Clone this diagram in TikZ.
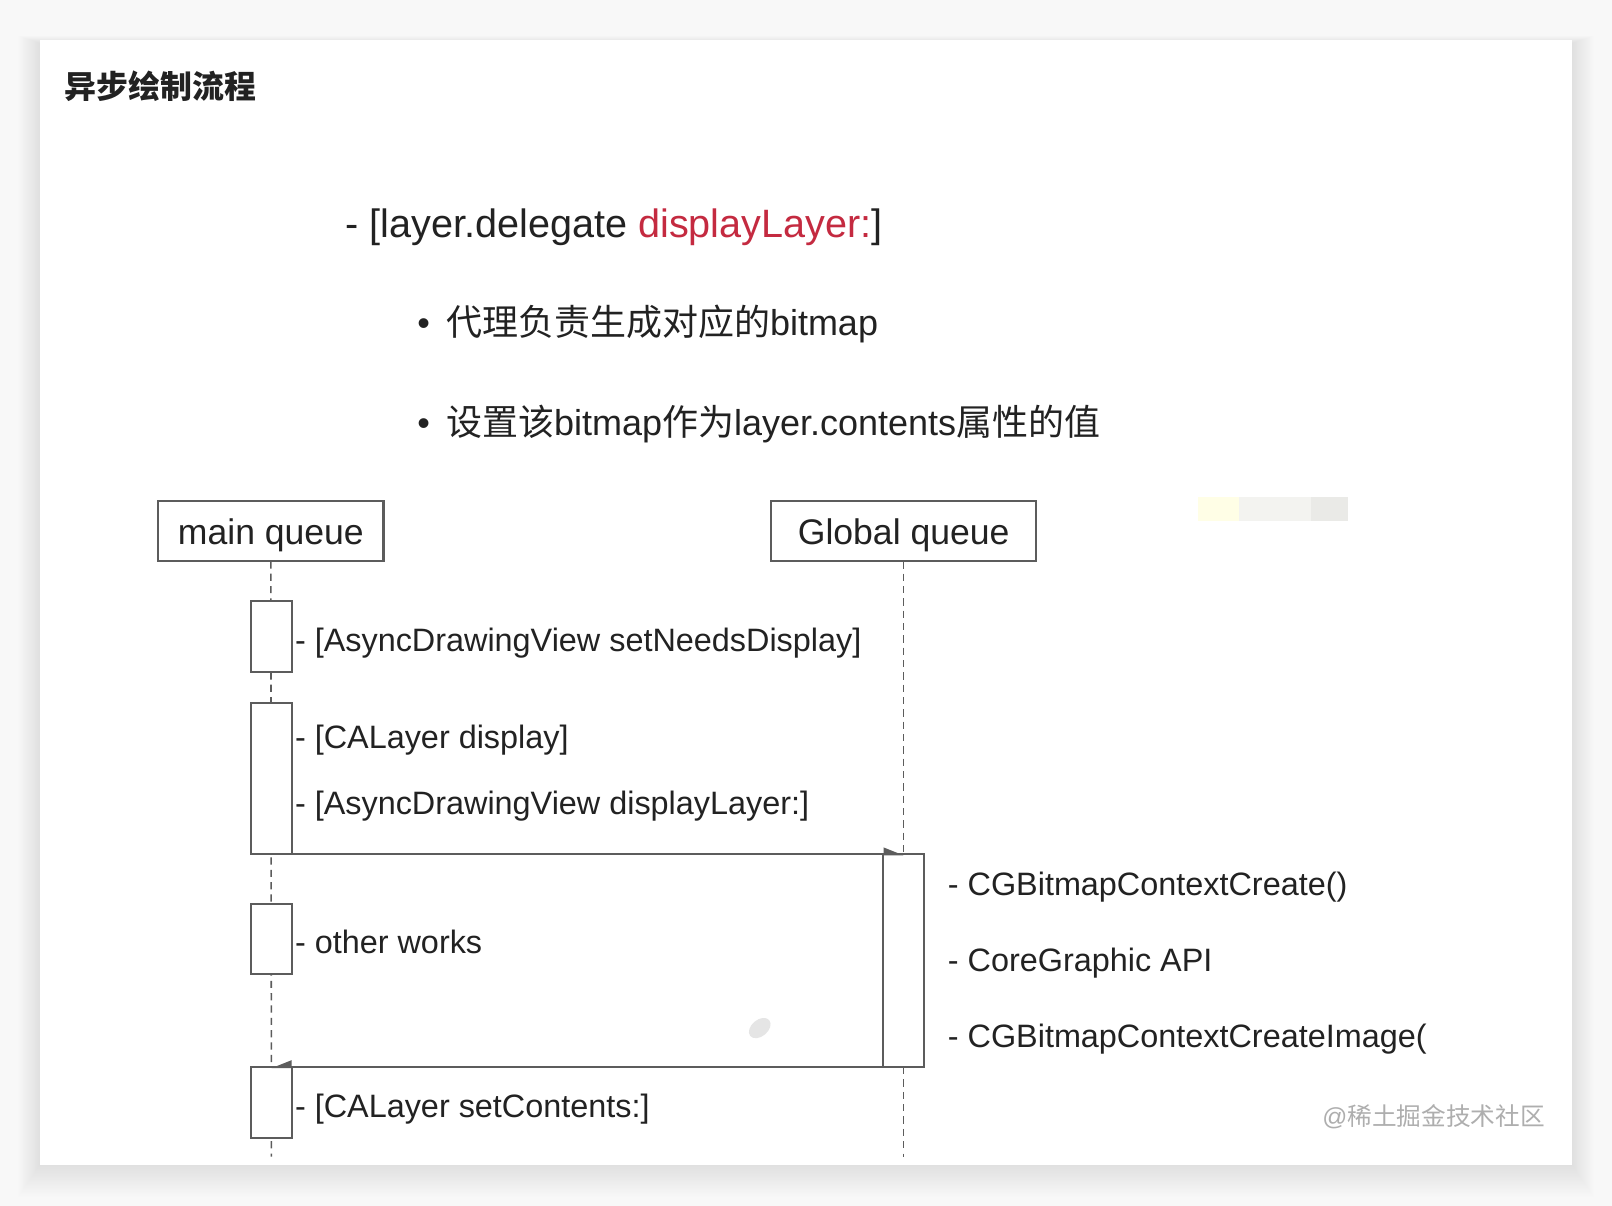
\documentclass[tikz,border=0pt]{standalone}
\usepackage{fontspec}
\setmainfont{Liberation Sans}
\newfontfamily\cjk{Noto Sans CJK SC}
\usetikzlibrary{arrows.meta}
\definecolor{txt}{HTML}{222222}
\definecolor{ln}{HTML}{5C5C5C}
\definecolor{redc}{HTML}{C42A40}
\definecolor{bgc}{HTML}{F8F8F8}
\definecolor{wmk}{HTML}{AEAEAE}
\pgfdeclarelayer{back}
\pgfdeclarelayer{bg}
\pgfsetlayers{back,bg,main}
\tikzset{
  lbl/.style={anchor=base west, inner sep=0pt, outer sep=0pt, text=txt, font=\fontsize{31.5}{38}\selectfont},
  bul/.style={anchor=base west, inner sep=0pt, outer sep=0pt, text=txt, font=\fontsize{35}{42}\selectfont},
  qbox/.style={draw=ln, line width=2pt, fill=white, inner sep=0pt, outer sep=0pt, text=txt,
    font=\fontsize{34.6}{40}\selectfont, text height=30pt, text depth=3pt},
  act/.style={draw=ln, line width=2pt, fill=white, inner sep=0pt, outer sep=0pt, minimum width=40pt},
  life/.style={draw=ln, line width=1.5pt, dash pattern=on 7pt off 5pt},
  msgr/.style={draw=ln, line width=2pt, -{Triangle[left, length=17pt, width=13pt]}},
  msgl/.style={draw=ln, line width=2pt, -{Triangle[right, length=17pt, width=13pt]}}
}
\begin{document}
\begin{tikzpicture}[x=1pt, y=-1pt]
\useasboundingbox (0,0) rectangle (1568,1173);
\begin{pgfonlayer}{back}
  \fill[bgc] (0,0) rectangle (1568,1173);
  \foreach \i in {1,...,24}{
    \fill[black, opacity=0.004] (39-\i*0.9, 39-\i*0.3+3) rectangle (1529+\i*0.9, 1133+\i*1.3);
  }
  \fill[white] (39,39) rectangle (1529,1133);
  % faint artefacts of the source picture
  \fill[yellow!10] (1165,483) rectangle (1205,507);
  \fill[yellow!8!gray!12] (1205,483) rectangle (1275,507);
  \fill[yellow!6!gray!20] (1275,483) rectangle (1311,507);
  \fill[gray!20, rotate around={40:(739,1000)}] (739,1000) ellipse (12pt and 8pt);
\end{pgfonlayer}

% title and text
\node[anchor=base west, inner sep=0pt, text=txt, font=\cjk\bfseries\fontsize{31}{36}\selectfont] (title) at (63,96) {异步绘制流程};
\node[anchor=base west, inner sep=0pt, text=txt, font=\fontsize{38.5}{46}\selectfont] (head) at (336,231) {- [layer.delegate \textcolor{redc}{displayLayer:}]};
\node[bul] (bu1) at (406,326) {•};
\node[bul] (bt1) at (434,326) {{\cjk 代理负责生成对应的}bitmap};
\node[bul] (bu2) at (406,424) {•};
\node[bul] (bt2) at (434,424) {{\cjk 设置该}bitmap{\cjk 作为}layer.contents{\cjk 属性的值}};

% queues
\node[qbox, minimum width=219pt, minimum height=59pt] (mq) at (263.5,516.5) {main queue};
\node[qbox, minimum width=258pt, minimum height=59pt] (gq) at (879,516.5) {Global queue};
\coordinate (mqend) at (264,1125);
\coordinate (gqend) at (879,1125);

% activation boxes
\node[act, minimum height=69pt] (a1) at (264,619.5) {};
\node[act, minimum height=147pt] (a2) at (264,757.5) {};
\node[act, minimum height=68pt] (a3) at (264,913) {};
\node[act, minimum height=69pt] (a4) at (264,1072.5) {};
\node[act, minimum height=207pt] (g1) at (879,934.5) {};

\begin{pgfonlayer}{bg}
  \draw[life] (mq.south) -- (mqend);
  \draw[life] (gq.south) -- (gqend);
\end{pgfonlayer}

% messages
\draw[msgr] (a2.south east) -- (g1.north);
\draw[msgl] (g1.south west) -- (a4.north);

% labels
\node[lbl] (l1) at (287,634) {- [AsyncDrawingView setNeedsDisplay]};
\node[lbl] (l2) at (287,728) {- [CALayer display]};
\node[lbl] (l3) at (287,792) {- [AsyncDrawingView displayLayer:]};
\node[lbl] (l4) at (287,927) {- other works};
\node[lbl] (l5) at (287,1087) {- [CALayer setContents:]};
\node[lbl] (r1) at (922,871) {- CGBitmapContextCreate()};
\node[lbl] (r2) at (922,945) {- CoreGraphic API};
\node[lbl] (r3) at (922,1019) {- CGBitmapContextCreateImage(};

% watermark
\node[anchor=base west, inner sep=0pt, text=wmk, font=\fontsize{24}{28}\selectfont] (wm) at (1286,1095) {@{\cjk 稀土掘金技术社区}};
\end{tikzpicture}
\end{document}
